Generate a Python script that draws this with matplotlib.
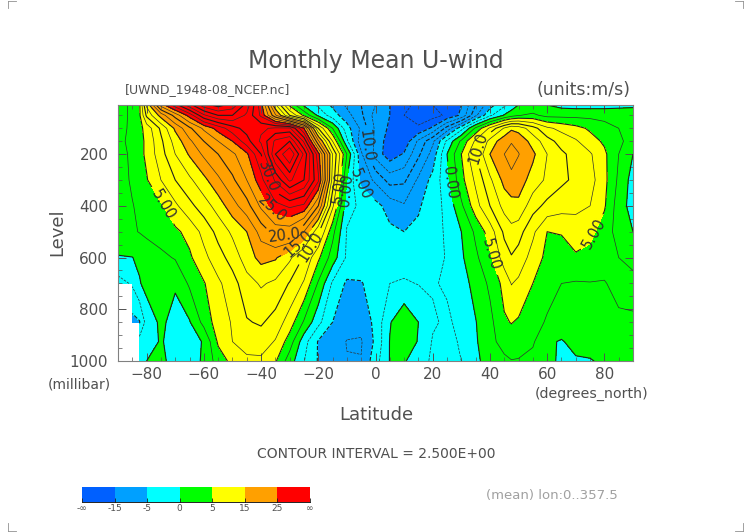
import numpy as np
import matplotlib
matplotlib.use("Agg")
import matplotlib.pyplot as plt
from matplotlib.lines import Line2D
from matplotlib.ticker import MultipleLocator

nan = np.nan

lats = [-90, -85, -82.5, -80, -75, -70, -65, -60, -55, -50, -45, -40, -35, -30, -25, -20, -15, -10, -5,
        0, 5, 10, 15, 20, 25, 30, 35, 40, 45, 47.5, 50, 55, 60, 65, 70, 75, 80, 85, 90]
levels_mb = [10, 50, 100, 150, 200, 300, 400, 500, 600, 700, 850, 925, 1000]

u_10 = [1.5, 3, 4.5, 13, 23.5, 29, 34, 39, 41, 39, 34, 26, 13, 4.5, -0.5, -3, -5.5, -8, -10,
        -12.5, -15, -17, -18, -17.5, -16.5, -15, -10, -6, -3, -1.5, 0, 0.6, 0, -0.8, -1, -1, -1, -0.8, -0.5]
u_50 = [1.5, 3, 4.5, 10.5, 16, 21, 26, 32, 35, 35, 32, 27, 18, 10, 4.5, -0.5, -3.8, -6.5, -9.5,
        -13.5, -15, -17.5, -19, -18.5, -17, -14.5, -8, -3, 0.2, 1.5, 2.4, 3, 1.8, 1.8, 1.8, 1.8, 1.8, 1.8, 1.5]
u_100 = [2, 2.8, 4.2, 6, 10.5, 15.5, 19.5, 23, 26, 29, 31, 32, 33, 33, 25, 10, 2.5, -4, -8,
         -13, -15.5, -17, -17, -14.5, -9, -3.5, 3, 8, 12.8, 14.6, 14, 11, 8, 6.8, 5.8, 4.6, 3.3, 2.5, 2]
u_150 = [2, 3, 4.2, 5.5, 9.5, 13.5, 17, 20, 22.5, 25, 29, 33, 38, 40, 32, 18, 7.5, -2, -9,
         -13, -16.5, -16.8, -12, -8, -2, 3, 8, 13.5, 16.5, 17.2, 16.8, 14, 11, 9, 7.8, 6, 4.6, 3, 1.5]
u_200 = [1.5, 3, 4.2, 5.5, 9, 12.5, 15.3, 18, 20, 22, 24.5, 30, 40, 45, 37, 26, 12.5, 2.5, -7,
         -13.5, -16.5, -14.7, -10.5, -6.5, 0, 5, 10, 15, 17.5, 19, 17.6, 15.5, 12.5, 10.5, 9, 7.8, 5.5, 2.5, 0]
u_300 = [1.5, 2.8, 3.6, 4.8, 7.5, 10, 12, 14.3, 17, 19.5, 22.5, 26.5, 33, 38, 35, 28, 11.5, 0, -5.8,
         -8, -11, -10.5, -7, -4.2, -0.8, 4.2, 8, 12, 15.8, 16.5, 16.2, 14, 12, 10.5, 9.5, 8.5, 5.7, 2, -1]
u_400 = [1.5, 2.4, 2.9, 3.4, 4.6, 7, 9.3, 11.3, 13.6, 16.5, 19, 23, 26.5, 28, 27, 20, 8, -1.6, -3,
         -4.2, -6, -7.2, -5.3, -3.7, -1.8, 2, 6.5, 10, 13.4, 14.2, 14.4, 11, 9.3, 8.5, 8, 7.5, 5.3, 1.2, -1]
u_500 = [1, 2.2, 2.6, 3, 3.7, 4.5, 5.8, 8.3, 10.8, 13, 15, 18.5, 21, 21, 17.5, 10.5, 3.3, -2.7, -3,
         -3.8, -4.5, -5, -4.5, -3.3, -2.2, 0, 3, 6.2, 10.5, 11.7, 11, 8, 5, 5.2, 6.5, 5.7, 3.8, 1.5, 0]
u_600 = [-0.1, -0.05, 0.5, 1.1, 1.9, 2.7, 4.6, 6.8, 9, 11, 13.8, 15.8, 15.3, 13, 9.7, 5.5, 1.3, -2.9, -3.3,
         -3.5, -3.6, -3.7, -3.4, -3, -2.4, -0.4, 2, 4.5, 8.8, 9.8, 9, 6.5, 4.3, 3.7, 4.6, 4.2, 3.2, 2.5, 2]
u_700 = [-3.5, -2.2, -0.2, 0.8, 0.5, 0.3, 2.9, 4.8, 7, 9, 11.5, 12.8, 12, 9.8, 7.2, 2.2, -2.9, -5.4, -5.2,
         -3.6, -2.5, -2.2, -2.6, -2.7, -2.2, -1, 0.8, 3, 5.8, 7.6, 7, 5, 3.2, 2.5, 2.3, 2.4, 2.4, 3, 3]
u_850 = [nan, -5.8, -5.2, -1.5, 0.5, -0.9, -0.2, 3.3, 6.3, 7.7, 9.8, 10.3, 9, 6.3, 2.2, -1.8, -5, -6.5, -6.8,
         -4.3, -0.2, 2, 0, -2.2, -2.9, -1.8, -0.1, 1.8, 4.7, 5.1, 4.7, 3.2, 2.3, 1.5, 1.7, 2, 2, 2.2, 2.3]
u_925 = [nan, nan, -1.5, -1, 0.2, -0.9, -1, 0.2, 5.4, 7.5, 8.7, 8.8, 7.3, 3.8, -1.5, -5.2, -6.3, -7.6, -7.7,
         -4.5, 0.1, 1.8, -0.2, -2.7, -3, -2.3, -0.3, 1.8, 3.4, 3.9, 3.8, 2.8, 0.4, -0.2, 0.8, 1.2, 1.3, 1.4, 1.4]
u_1000 = [nan, nan, -1, 0, 0.6, -1, -0.9, 0.3, 3.7, 5.7, 6.9, 7, 5.3, 1.2, -2.4, -5.2, -6, -7.4, -7.4,
          -3.5, 0.1, 0.3, -1.7, -2.8, -3, -2.5, -0.5, 1, 2, 2.4, 2.3, 1.8, 0.6, -0.4, -0.3, -0.2, 0.5, 0.6, 0.6]

fill_bounds = [-100, -15, -5, 0, 5, 15, 25, 100]
fill_colors = ["#0060ff", "#00a0ff", "#00ffff", "#00ff00", "#ffff00", "#ffa000", "#ff0000"]
bar_labels = ["-\u221e", "-15", "-5", "0", "5", "15", "25", "\u221e"]

thin_levels = [-17.5, -12.5, -7.5, -2.5, 2.5, 7.5, 12.5, 17.5, 22.5, 27.5, 32.5, 37.5, 42.5]
thick_levels = [-15, -10, -5, 0, 5, 10, 15, 20, 25, 30, 35, 40]
label_spots = [(-74, 395), (-13.5, 328), (40, 590), (77.4, 513), (-10.6, 338), (26.7, 310), (-22, 563),
               (37.6, 185), (-27, 544), (-32, 482), (-34.4, 395), (-39, 292), (-4, 170), (-3, 310)]

plt.rcParams['font.family'] = 'DejaVu Sans'
TXT = "#505050"


def px(x, y):
    return x / 752, 1 - y / 532


def label_fmt(v):
    v = abs(v)
    return f"{v:.2f}" if v < 10 else f"{v:.1f}"


u = np.array([u_10, u_50, u_100, u_150, u_200, u_300, u_400, u_500, u_600, u_700, u_850, u_925, u_1000])

fig = plt.figure(figsize=(7.52, 5.32), dpi=100, facecolor="white")
ax = fig.add_axes([118 / 752, 1 - 361 / 532, 515 / 752, 256 / 532])

ax.contourf(lats, levels_mb, u, levels=fill_bounds, colors=fill_colors, corner_mask=False)
ax.contour(lats, levels_mb, u, levels=thin_levels, colors="#303030", linewidths=0.5,
           linestyles=["dashed" if v < 0 else "solid" for v in thin_levels], corner_mask=False)
cs = ax.contour(lats, levels_mb, u, levels=thick_levels, colors="#202020", linewidths=0.8,
                linestyles=["dashed" if v < 0 else "solid" for v in thick_levels], corner_mask=False)
ax.set_xlim(-90, 90)
ax.set_ylim(1000, 10)
ax.clabel(cs, manual=label_spots, fmt=label_fmt, fontsize=10.5, colors="#303030", inline=True)

ax.xaxis.set_major_locator(MultipleLocator(20))
ax.xaxis.set_minor_locator(MultipleLocator(5))
ax.yaxis.set_major_locator(MultipleLocator(200))
ax.yaxis.set_minor_locator(MultipleLocator(50))
ax.tick_params(which="major", direction="in", top=True, right=True, length=6, width=0.7, color="#505050",
               labelsize=11, labelcolor=TXT)
ax.tick_params(which="minor", direction="in", top=True, right=True, length=3, width=0.5, color="#505050")
ax.tick_params(axis="x", which="major", pad=4)
ax.tick_params(axis="y", which="major", pad=7)
for s in ax.spines.values():
    s.set_linewidth(0.8)
    s.set_color("#808080")

fig.text(*px(376, 61), "Monthly Mean U-wind", ha="center", va="center", fontsize=17, color=TXT)
fig.text(*px(125, 90), "[UWND_1948-08_NCEP.nc]", ha="left", va="center", fontsize=9, color=TXT)
fig.text(*px(630, 90), "(units:m/s)", ha="right", va="center", fontsize=12.5, color=TXT)
fig.text(*px(57, 232), "Level", ha="center", va="center", rotation=90, fontsize=13, color=TXT)
fig.text(*px(79, 384), "(millibar)", ha="center", va="center", fontsize=10, color=TXT)
fig.text(*px(376, 415), "Latitude", ha="center", va="center", fontsize=13, color=TXT)
fig.text(*px(592, 394), "(degrees_north)", ha="center", va="center", fontsize=10.2, color=TXT)
fig.text(*px(376, 454), "CONTOUR INTERVAL = 2.500E+00", ha="center", va="center", fontsize=10, color=TXT)
fig.text(*px(552, 496), "(mean) lon:0..357.5", ha="center", va="center", fontsize=9.5, color="#a0a0a0")

# colour key, one equal box per fill colour
cax = fig.add_axes([82 / 752, 1 - 502 / 532, 228 / 752, 15 / 532])
for i, c in enumerate(fill_colors):
    cax.axvspan(i, i + 1, color=c, lw=0)
cax.set_xlim(0, len(fill_colors))
cax.set_yticks([])
cax.set_xticks(range(len(bar_labels)))
cax.set_xticklabels(bar_labels, fontsize=6.5, color=TXT)
cax.tick_params(axis="x", direction="in", length=3, width=0.6, pad=1.5, color="#202020")
for side, s in cax.spines.items():
    s.set_visible(side == "bottom")
    s.set_linewidth(0.6)

# crop marks in the page corners
for (x0, y0, x1, y1) in [(8, 1, 8, 8), (8, 1, 16, 1), (743, 1, 743, 8), (743, 1, 735, 1),
                         (8, 531, 8, 523), (8, 531, 16, 531), (743, 531, 743, 523), (743, 531, 735, 531)]:
    fig.add_artist(Line2D([x0 / 752, x1 / 752], [1 - y0 / 532, 1 - y1 / 532], color="#909090", lw=0.6))

fig.savefig("out.png", dpi=100)
